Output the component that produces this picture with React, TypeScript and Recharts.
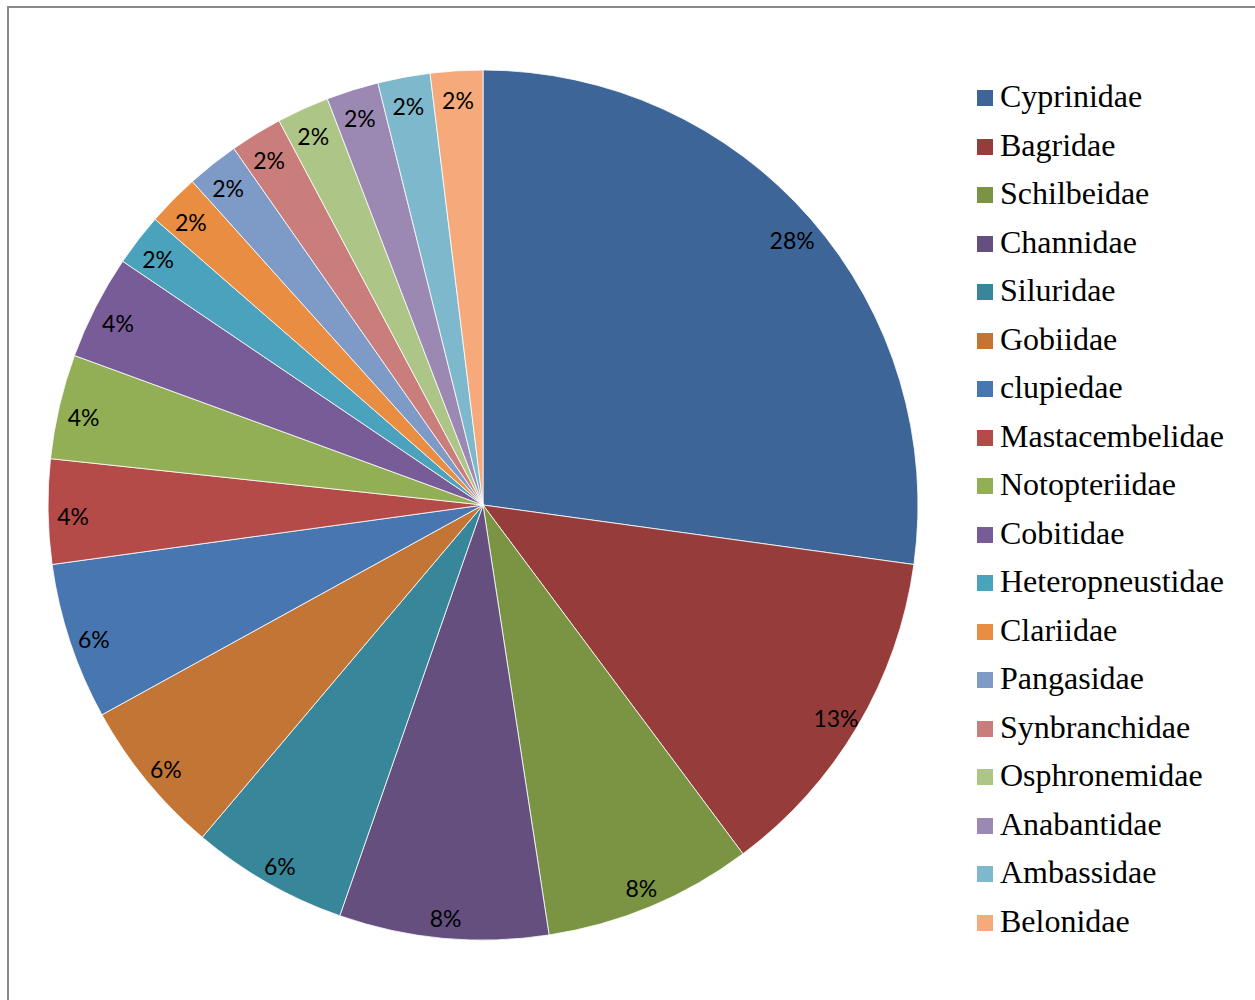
import { PieChart, Pie, Cell, Legend } from "recharts";

const families = [
  "Cyprinidae",
  "Bagridae",
  "Schilbeidae",
  "Channidae",
  "Siluridae",
  "Gobiidae",
  "clupiedae",
  "Mastacembelidae",
  "Notopteriidae",
  "Cobitidae",
  "Heteropneustidae",
  "Clariidae",
  "Pangasidae",
  "Synbranchidae",
  "Osphronemidae",
  "Anabantidae",
  "Ambassidae",
  "Belonidae",
];

const shares = [28, 13, 8, 8, 6, 6, 6, 4, 4, 4, 2, 2, 2, 2, 2, 2, 2, 2];

const COLORS = [
  "#3D6597",
  "#963D3B",
  "#7B9443",
  "#644F7F",
  "#38869A",
  "#C27535",
  "#4876B0",
  "#B44B48",
  "#92AF55",
  "#785C98",
  "#4AA2BC",
  "#E88D42",
  "#7E9AC7",
  "#C97E7C",
  "#ADC586",
  "#9C89B3",
  "#7DB8CD",
  "#F6AA7B",
];

const data = families.map((name, i) => ({ name, value: shares[i] }));

const RADIAN = Math.PI / 180;

interface LabelProps {
  cx: number;
  cy: number;
  midAngle: number;
  value: number;
}

const renderLabel = ({ cx, cy, midAngle, value }: LabelProps) => {
  const radius = 410;
  const x = cx + radius * Math.cos(-midAngle * RADIAN);
  const y = cy + radius * Math.sin(-midAngle * RADIAN) + 4.5;
  return (
    <text
      x={x}
      y={y}
      fill="#000"
      textAnchor="middle"
      dominantBaseline="central"
      style={{ fontFamily: "Lato, 'Open Sans', sans-serif", fontSize: 23 }}
    >
      {`${value}%`}
    </text>
  );
};

const renderLegend = () => (
  <div style={{ fontFamily: "'Liberation Serif', 'Times New Roman', serif", fontSize: 32 }}>
    {data.map((entry, index) => (
      <div
        key={`legend-${index}`}
        style={{ display: "flex", alignItems: "center", height: 48.5, lineHeight: "48.5px" }}
      >
        <div
          style={{
            width: 16,
            height: 16,
            marginRight: 7,
            position: "relative",
            top: 2,
            backgroundColor: COLORS[index % COLORS.length],
          }}
        ></div>
        <span style={{ color: "#000", whiteSpace: "nowrap" }}>{entry.name}</span>
      </div>
    ))}
  </div>
);

export default function App() {
  return (
    <div
      style={{
        position: "absolute",
        left: 0,
        top: 0,
        width: 1255,
        height: 1000,
        overflow: "hidden",
        background: "#fff",
      }}
    >
      <div
        style={{
          position: "absolute",
          left: 7,
          top: 6,
          width: 1270,
          height: 1020,
          border: "2px solid #8a8a8a",
        }}
      ></div>
      <div style={{ position: "absolute", left: 0, top: 0 }}>
        <PieChart width={1255} height={1000} margin={{ top: 0, right: 0, bottom: 0, left: 0 }}>
          <Pie
            data={data}
            dataKey="value"
            nameKey="name"
            cx={483}
            cy={505}
            outerRadius={435}
            startAngle={90}
            endAngle={-270}
            labelLine={false}
            label={renderLabel}
            stroke="#fff"
            strokeWidth={0.8}
            isAnimationActive={false}
          >
            {data.map((_, index) => (
              <Cell key={`cell-${index}`} fill={COLORS[index % COLORS.length]} />
            ))}
          </Pie>
          <Legend
            content={renderLegend}
            wrapperStyle={{ position: "absolute", left: 977, top: 72, width: 270 }}
          />
        </PieChart>
      </div>
    </div>
  );
}
